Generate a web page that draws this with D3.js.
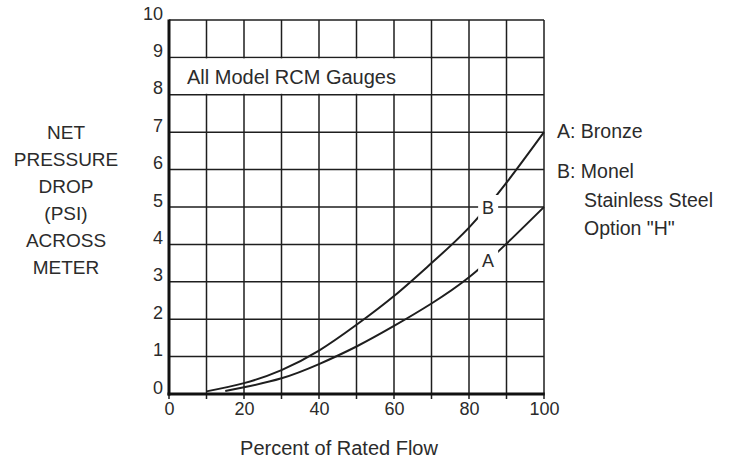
<!DOCTYPE html>
<html><head><meta charset="utf-8">
<script src="https://cdn.jsdelivr.net/npm/d3@7"></script>
<style>
body{margin:0;background:#fff}
svg{display:block}
text{font-family:"Liberation Sans",Arial,Helvetica,sans-serif;fill:#2b2b2b}
</style>
</head><body>
<svg id="c" width="733" height="460"></svg>
<script>
// ---- data ----
const flowA = [15, 20, 30, 40, 50, 60, 70, 80, 90, 100];
const dropA = [0.08, 0.18, 0.42, 0.80, 1.27, 1.82, 2.42, 3.12, 4.02, 5.0];
const flowB = [10, 20, 30, 40, 50, 60, 70, 80, 90, 100];
const dropB = [0.07, 0.29, 0.64, 1.16, 1.85, 2.62, 3.50, 4.45, 5.65, 7.0];
const xTickLabels = [0, 20, 40, 60, 80, 100];
const yTickLabels = [0, 1, 2, 3, 4, 5, 6, 7, 8, 9, 10];
const gridX = [0, 10, 20, 30, 40, 50, 60, 70, 80, 90, 100];
const gridY = [0, 1, 2, 3, 4, 5, 6, 7, 8, 9, 10];
const yTitleLines = ["NET", "PRESSURE", "DROP", "(PSI)", "ACROSS", "METER"];
const legendLines = ["A: Bronze", "B: Monel", "Stainless Steel", "Option \"H\""];
const curveNames = ["A", "B"];
const curveLabelFlow = [85.1, 85.1];
const curveLabelDrop = [3.58, 5.0];
const xTitle = "Percent of Rated Flow";
const boxTitle = "All Model RCM Gauges";

// ---- layout ----
const svg = d3.select("#c");
const x = d3.scaleLinear().domain([0, 100]).range([169, 544]);
const y = d3.scaleLinear().domain([0, 10]).range([394, 20]);
const ink = "#1e1e1e";

// grid
svg.append("g").selectAll("line").data(gridX).join("line")
  .attr("x1", d => x(d)).attr("x2", d => x(d))
  .attr("y1", y(10)).attr("y2", y(0) + 5)
  .attr("stroke", ink).attr("stroke-width", 1.5);
svg.append("g").selectAll("line").data(gridY).join("line")
  .attr("x1", x(0)).attr("x2", x(100))
  .attr("y1", d => y(d)).attr("y2", d => y(d))
  .attr("stroke", ink).attr("stroke-width", 1.5);

// box title background (covers verticals 10..60 between 8 and 9)
svg.append("rect")
  .attr("x", x(0) + 2).attr("y", y(9) + 1)
  .attr("width", x(70) - x(0) - 3).attr("height", y(8) - y(9) - 2)
  .attr("fill", "#fff");
svg.append("text").attr("x", 187).attr("y", 84)
  .style("font-size", "20px").text(boxTitle);

// axes (thick left & bottom)
svg.append("line").attr("x1", x(0)).attr("x2", x(0)).attr("y1", y(10) - 0.5).attr("y2", y(0) + 1.5)
  .attr("stroke", "#111").attr("stroke-width", 3);
svg.append("line").attr("x1", x(0) - 1.5).attr("x2", x(100) + 0.75).attr("y1", y(0)).attr("y2", y(0))
  .attr("stroke", "#111").attr("stroke-width", 3);

// tick labels via d3 axes
const ax = svg.append("g").attr("transform", `translate(0,${y(0)})`)
  .call(d3.axisBottom(x).tickValues(xTickLabels).tickSize(0).tickPadding(21));
const ay = svg.append("g").attr("transform", `translate(${x(0)},0)`)
  .call(d3.axisLeft(y).tickValues(yTickLabels).tickSize(0).tickPadding(6));
[ax, ay].forEach(g => { g.select(".domain").remove(); });
ax.selectAll("text").style("font-size", "18px").attr("fill", "#2b2b2b").attr("dy", 0)
  .style("font-family", "'Liberation Sans',Arial,sans-serif");
ay.selectAll("text").style("font-size", "18px").attr("fill", "#2b2b2b").attr("dy", "-1")
  .style("font-family", "'Liberation Sans',Arial,sans-serif");

// curves
const line = d3.line().x(d => x(d[0])).y(d => y(d[1])).curve(d3.curveNatural);
const serA = flowA.map((f, i) => [f, dropA[i]]);
const serB = flowB.map((f, i) => [f, dropB[i]]);
[serA, serB].forEach(s => {
  svg.append("path").attr("d", line(s)).attr("fill", "none")
    .attr("stroke", ink).attr("stroke-width", 2);
});

// curve labels with white gap
curveNames.forEach((n, i) => {
  const cx = x(curveLabelFlow[i]), cy = y(curveLabelDrop[i]);
  svg.append("rect").attr("x", cx - 10).attr("y", cy - 12).attr("width", 20).attr("height", 24)
    .attr("fill", "#fff");
  svg.append("text").attr("x", cx).attr("y", cy + 6.5).attr("text-anchor", "middle")
    .style("font-size", "18px").text(n);
});

// y title
svg.append("g").selectAll("text").data(yTitleLines).join("text")
  .attr("x", 66).attr("y", (d, i) => 139 + i * 27)
  .attr("text-anchor", "middle").style("font-size", "19px").text(d => d);

// legend
const legX = [557, 557, 584, 584];
const legY = [138, 178, 207, 235];
svg.append("g").selectAll("text").data(legendLines).join("text")
  .attr("x", (d, i) => legX[i]).attr("y", (d, i) => legY[i])
  .style("font-size", "19.5px").text(d => d);

// x title
svg.append("text").attr("x", 339).attr("y", 455).attr("text-anchor", "middle")
  .style("font-size", "20px").text(xTitle);
</script>
</body></html>
